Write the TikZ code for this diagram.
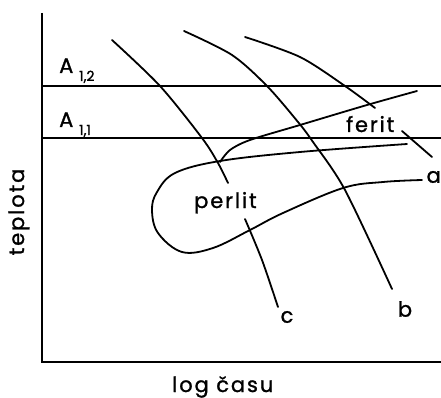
\documentclass[tikz,border=0pt]{standalone}
\usepackage{fontspec}
\setmainfont{Poppins}
\begin{document}
\begin{tikzpicture}[x=1pt,y=-1pt,
  curve/.style={line width=1.8pt, line cap=round},
  axis/.style={line width=1.6pt},
  aline/.style={line width=1.3pt},
  lbl/.style={font=\fontsize{21}{24}\selectfont\addfontfeature{LetterSpace=9,FakeBold=1.2}, inner sep=0pt},
  sublbl/.style={font=\fontsize{14}{16}\selectfont\addfontfeature{FakeBold=1.2}, inner sep=0pt}]
\useasboundingbox (0,0) rectangle (441,398);
% axes
\coordinate (o) at (42,362);
\coordinate (ytop) at (42,13);
\coordinate (xend) at (441,362);
\draw[axis] (ytop) -- (o) -- (xend);
% A lines
\coordinate (a2l) at (42,86);
\coordinate (a2r) at (441,86);
\coordinate (a1l) at (42,138);
\coordinate (a1r) at (441,138);
\draw[aline] (a2l) -- (a2r);
\draw[aline] (a1l) -- (a1r);
\node[lbl, anchor=base west] (A12) at (59,73) {A};
\node[sublbl, anchor=base west] (s12) at (79,81) {1,2};
\node[lbl, anchor=base west] (A11) at (59,127) {A};
\node[sublbl, anchor=base west] (s11) at (79,135) {1,1};
% cooling curves
\draw[curve] plot[smooth] coordinates {(112,40) (160,86) (202,138) (218,163) (228,183)};
\draw[curve] plot[smooth] coordinates {(245,219) (262,260) (278,307)};
\draw[curve] plot[smooth] coordinates {(184,31) (232,55) (267,86) (298,122) (313,142) (345,190) (392,289)};
\draw[curve] plot[smooth] coordinates {(245,37) (300,57) (345,86) (375,108)};
\draw[curve] plot[smooth] coordinates {(402,131) (432,157)};
% transformation curves
\draw[curve] plot[smooth] coordinates {(417,91) (367,105) (300,125) (250,140) (230,150) (220,162)};
\draw[curve] plot[smooth, tension=0.6] coordinates {(407,144) (300,152) (220,161) (175,173) (157,192) (152,210) (158,233) (182,252) (213,248) (250,230) (283,213) (343,188) (383,182) (422,180)};
% labels
\node[lbl, anchor=base west] (perlit) at (194,208) {perlit};
\node[lbl, anchor=base west] (ferit) at (346,132) {ferit};
\node[lbl] (c) at (287,317) {c};
\node[lbl] (b) at (405,309) {b};
\node[lbl, anchor=east] (a) at (441,177) {a};
\node[lbl, rotate=90] (yl) at (19,212) {teplota};
\node[lbl, anchor=base west] (xl) at (172,392) {log času};
\end{tikzpicture}
\end{document}
